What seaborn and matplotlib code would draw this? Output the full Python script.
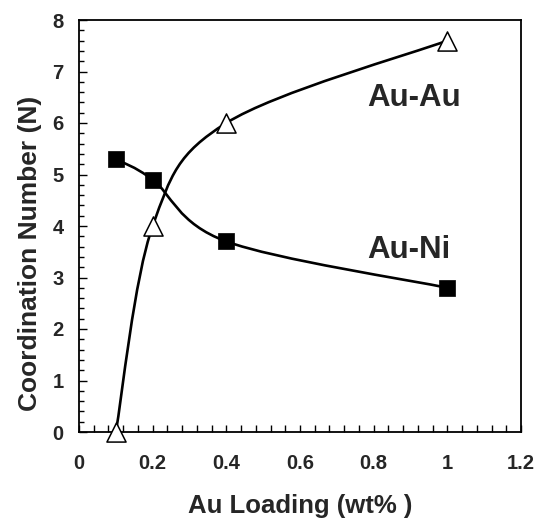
import numpy as np
import pandas as pd
import matplotlib
matplotlib.use("Agg")
import matplotlib.pyplot as plt
from matplotlib.path import Path
from matplotlib.patches import PathPatch
from matplotlib.ticker import MultipleLocator
import seaborn as sns

# data
loading = [0.1, 0.2, 0.4, 1.0]
au_au = [0.0, 4.0, 6.0, 7.6]
au_ni = [5.3, 4.9, 3.7, 2.8]
xticks = [0, 0.2, 0.4, 0.6, 0.8, 1, 1.2]
xticklabels = ["0", "0.2", "0.4", "0.6", "0.8", "1", "1.2"]
yticks = [0, 1, 2, 3, 4, 5, 6, 7, 8]

sns.set_theme(style="ticks")
plt.rcParams["font.family"] = ["Liberation Sans", "DejaVu Sans"]
plt.rcParams["font.weight"] = "bold"

fig = plt.figure(figsize=(5.39, 5.2), dpi=100)
ax = fig.add_axes([79/539, 1-432/520, 442/539, 412/520])


def smooth_path(xs, ys):
    # Excel-like smoothed line: cubic Bezier (Catmull-Rom) through the points
    pts = np.column_stack([xs, ys]).astype(float)
    n = len(pts)
    verts = [pts[0]]
    codes = [Path.MOVETO]
    for i in range(n - 1):
        p0 = pts[i - 1] if i > 0 else pts[i]
        p1 = pts[i]
        p2 = pts[i + 1]
        p3 = pts[i + 2] if i + 2 < n else pts[i + 1]
        c1 = p1 + (p2 - p0) / 6.0
        c2 = p2 - (p3 - p1) / 6.0
        verts += [c1, c2, p2]
        codes += [Path.CURVE4] * 3
    return Path(verts, codes)


for ys in (au_au, au_ni):
    ax.add_patch(PathPatch(smooth_path(loading, ys), fill=False,
                           edgecolor="black", lw=1.9, zorder=2,
                           capstyle="round", joinstyle="round"))

df_ni = pd.DataFrame({"x": loading, "y": au_ni})
df_au = pd.DataFrame({"x": loading, "y": au_au})
sns.scatterplot(data=df_ni, x="x", y="y", marker="s", s=125, color="black",
                edgecolor="black", linewidth=0.5, ax=ax, zorder=3, clip_on=False)
sns.scatterplot(data=df_au, x="x", y="y", marker="^", s=190, color="white",
                edgecolor="black", linewidth=1.1, ax=ax, zorder=3, clip_on=False)

ax.set_xlim(0, 1.2)
ax.set_ylim(0, 8)
ax.set_xticks(xticks)
ax.set_xticklabels(xticklabels)
ax.set_yticks(yticks)
ax.xaxis.set_minor_locator(MultipleLocator(0.04))
ax.yaxis.set_minor_locator(MultipleLocator(0.2))
ax.tick_params(axis="x", which="both", direction="in", length=5, width=1,
               pad=16, labelsize=14.5, color="black")
ax.tick_params(axis="y", which="major", direction="in", length=5.5, width=1,
               pad=11, labelsize=14.5, color="black")
ax.tick_params(axis="y", which="minor", direction="in", length=3.5, width=1,
               color="black")
for lab in ax.get_xticklabels() + ax.get_yticklabels():
    lab.set_fontweight("bold")
for sp in ax.spines.values():
    sp.set_linewidth(1.3)
    sp.set_color("black")
    sp.set_visible(True)

ax.set_xlabel("Au Loading (wt% )", fontsize=18.5, fontweight="bold")
ax.set_ylabel("Coordination Number (N)", fontsize=19, fontweight="bold")
ax.xaxis.set_label_coords(0.5, -0.150)
ax.yaxis.set_label_coords(-0.083, 0.434)

ax.text(0.782, 6.33, "Au-Au", fontsize=22.5, fontweight="bold", ha="left",
        va="baseline")
ax.text(0.782, 3.38, "Au-Ni", fontsize=22.5, fontweight="bold", ha="left",
        va="baseline")

fig.savefig("out.png", dpi=100, facecolor="white")
